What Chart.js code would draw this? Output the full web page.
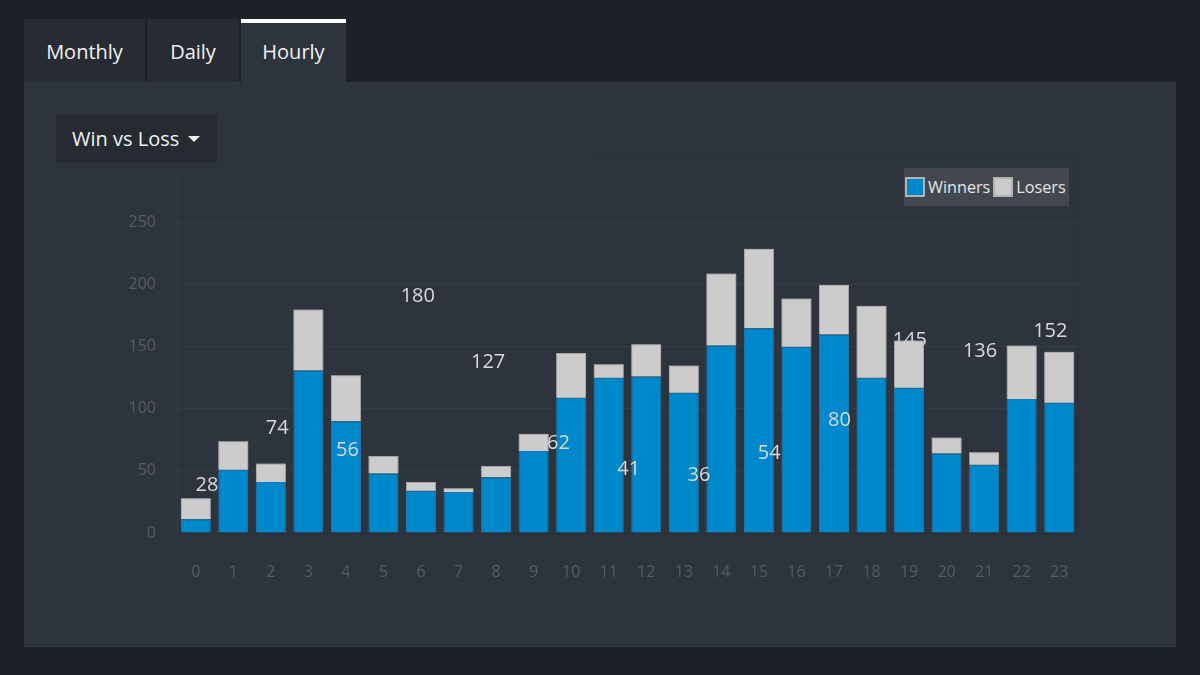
<!DOCTYPE html>
<html>
<head>
<meta charset="utf-8">
<script src="https://cdn.jsdelivr.net/npm/chart.js@4.4.1/dist/chart.umd.min.js"></script>
<style>
  html, body { margin: 0; padding: 0; }
  body { width: 1200px; height: 675px; background: #1e2027; font-family: "Open Sans", sans-serif; position: relative; overflow: hidden; }
  .tab { position: absolute; top: 19px; height: 63px; background: #272b33; color: #f2f2f2; font-size: 20px; line-height: 65px; text-align: center; }
  .tab.active { background: #2e343e; border-top: 4px solid #ffffff; height: 59px; line-height: 57px; }
  #panel { position: absolute; left: 24px; top: 82px; width: 1152px; height: 565px; background: #2e343e; }
  #dropdown { position: absolute; left: 56px; top: 114px; width: 161px; height: 49px; background: #262a31; color: #f2f2f2; font-size: 20px; line-height: 49px; box-sizing: border-box; padding-left: 16px; }
  #dropdown .caret { display: inline-block; width: 0; height: 0; border-left: 6px solid transparent; border-right: 6px solid transparent; border-top: 6px solid #f2f2f2; vertical-align: middle; margin-left: 4px; margin-top: -3px; }
  #frame { position: absolute; left: 598px; top: 159px; width: 479px; height: 374px; border-top: 1px solid #2a2f38; border-right: 1px solid #2a2f38; }
  #wrap { position: absolute; left: 24px; top: 82px; width: 1152px; height: 565px; }
  #legend { position: absolute; left: 904px; top: 168px; height: 38px; background: #434850; display: flex; align-items: center; padding: 0 3px 0 1px; color: #e6e6e6; font-size: 16.2px; }
  #legend .item { display: flex; align-items: center; margin-right: 3px; }
  #legend .item:last-child { margin-right: 0; }
  #legend .box { width: 16px; height: 16px; border: 2px solid #b3b3b3; margin-right: 3px; }
</style>
</head>
<body>
<div class="tab" style="left:24px;width:121px;">Monthly</div>
<div class="tab" style="left:147px;width:92px;">Daily</div>
<div class="tab active" style="left:241px;width:105px;">Hourly</div>
<div id="panel"></div>
<div id="dropdown">Win vs Loss <span class="caret"></span></div>
<div id="frame"></div>
<div id="wrap"><canvas id="hourly-chart"></canvas></div>
<div id="legend"></div>

<script>
// hours of the day
var hours = ['0','1','2','3','4','5','6','7','8','9','10','11','12','13','14','15','16','17','18','19','20','21','22','23'];
var winners = [11, 51, 41, 131, 90, 48, 34, 33, 45, 66, 109, 125, 126, 113, 151, 165, 150, 160, 125, 117, 64, 55, 108, 105];
var losers  = [17, 23, 15, 49, 37, 14, 7, 3, 9, 14, 36, 11, 26, 22, 58, 64, 39, 40, 58, 38, 13, 10, 43, 41];
var yTicks = [0, 50, 100, 150, 200, 250];
// the floating total labels only show the first 13 hours
var labelCount = 13;

var gridColor = '#363b45';
var tickColor = '#565b63';

// totals sit above the winners but under the losers,
// so draw them and then paint the losers dataset again
var totalLabels = {
    id: 'totalLabels',
    afterDatasetsDraw: function (chart) {
        var ctx = chart.ctx;
        var area = chart.chartArea;
        var y = chart.scales.y;
        ctx.save();
        ctx.font = '20px "Open Sans"';
        ctx.fillStyle = '#d9d9d9';
        ctx.textAlign = 'center';
        ctx.textBaseline = 'middle';
        for (var i = 0; i < labelCount; i++) {
            var total = winners[i] + losers[i];
            var x = area.left + area.width * (0.0333 + 0.078 * i);
            ctx.fillText(String(total), x, y.getPixelForValue(total) - 13);
        }
        ctx.restore();
        ctx.save();
        chart.getDatasetMeta(1).controller.draw();
        ctx.restore();
    }
};

var ctx = document.getElementById('hourly-chart').getContext('2d');
var chart = new Chart(ctx, {
    type: 'bar',
    data: {
        labels: hours,
        datasets: [{
            label: 'Winners',
            data: winners,
            backgroundColor: '#0088cc',
            borderColor: '#1c7bb0',
            borderWidth: 1
        }, {
            label: 'Losers',
            data: losers,
            backgroundColor: '#cccccc',
            borderColor: '#a6a6a6',
            borderWidth: 1
        }]
    },
    options: {
        responsive: true,
        maintainAspectRatio: false,
        animation: false,
        layout: {
            padding: { top: 91, right: 98, left: 0, bottom: 0 }
        },
        datasets: {
            bar: { categoryPercentage: 1, barPercentage: 0.8 }
        },
        plugins: {
            tooltip: { enabled: false },
            legend: { display: false }
        },
        scales: {
            x: {
                stacked: true,
                grid: { display: false, drawTicks: false },
                border: { display: true, color: '#2a2e36' },
                ticks: {
                    color: tickColor,
                    font: { family: 'Open Sans', size: 16 },
                    padding: 30,
                    maxRotation: 0,
                    autoSkip: false
                },
                afterFit: function (scale) { scale.height = 114; }
            },
            y: {
                stacked: true,
                min: 0,
                max: 290,
                afterBuildTicks: function (scale) {
                    scale.ticks = yTicks.map(function (v) { return { value: v }; });
                },
                grid: { color: gridColor, drawTicks: false },
                border: { display: true, color: gridColor },
                ticks: {
                    color: tickColor,
                    font: { family: 'Open Sans', size: 16 },
                    padding: 21
                },
                afterFit: function (scale) { scale.width = 153; }
            }
        }
    },
    plugins: [totalLabels]
});

// html legend built from the chart's datasets
var legendEl = document.getElementById('legend');
chart.data.datasets.forEach(function (ds) {
    var item = document.createElement('span');
    item.className = 'item';
    var box = document.createElement('span');
    box.className = 'box';
    box.style.background = ds.backgroundColor;
    item.appendChild(box);
    item.appendChild(document.createTextNode(ds.label));
    legendEl.appendChild(item);
});
</script>
</body>
</html>
